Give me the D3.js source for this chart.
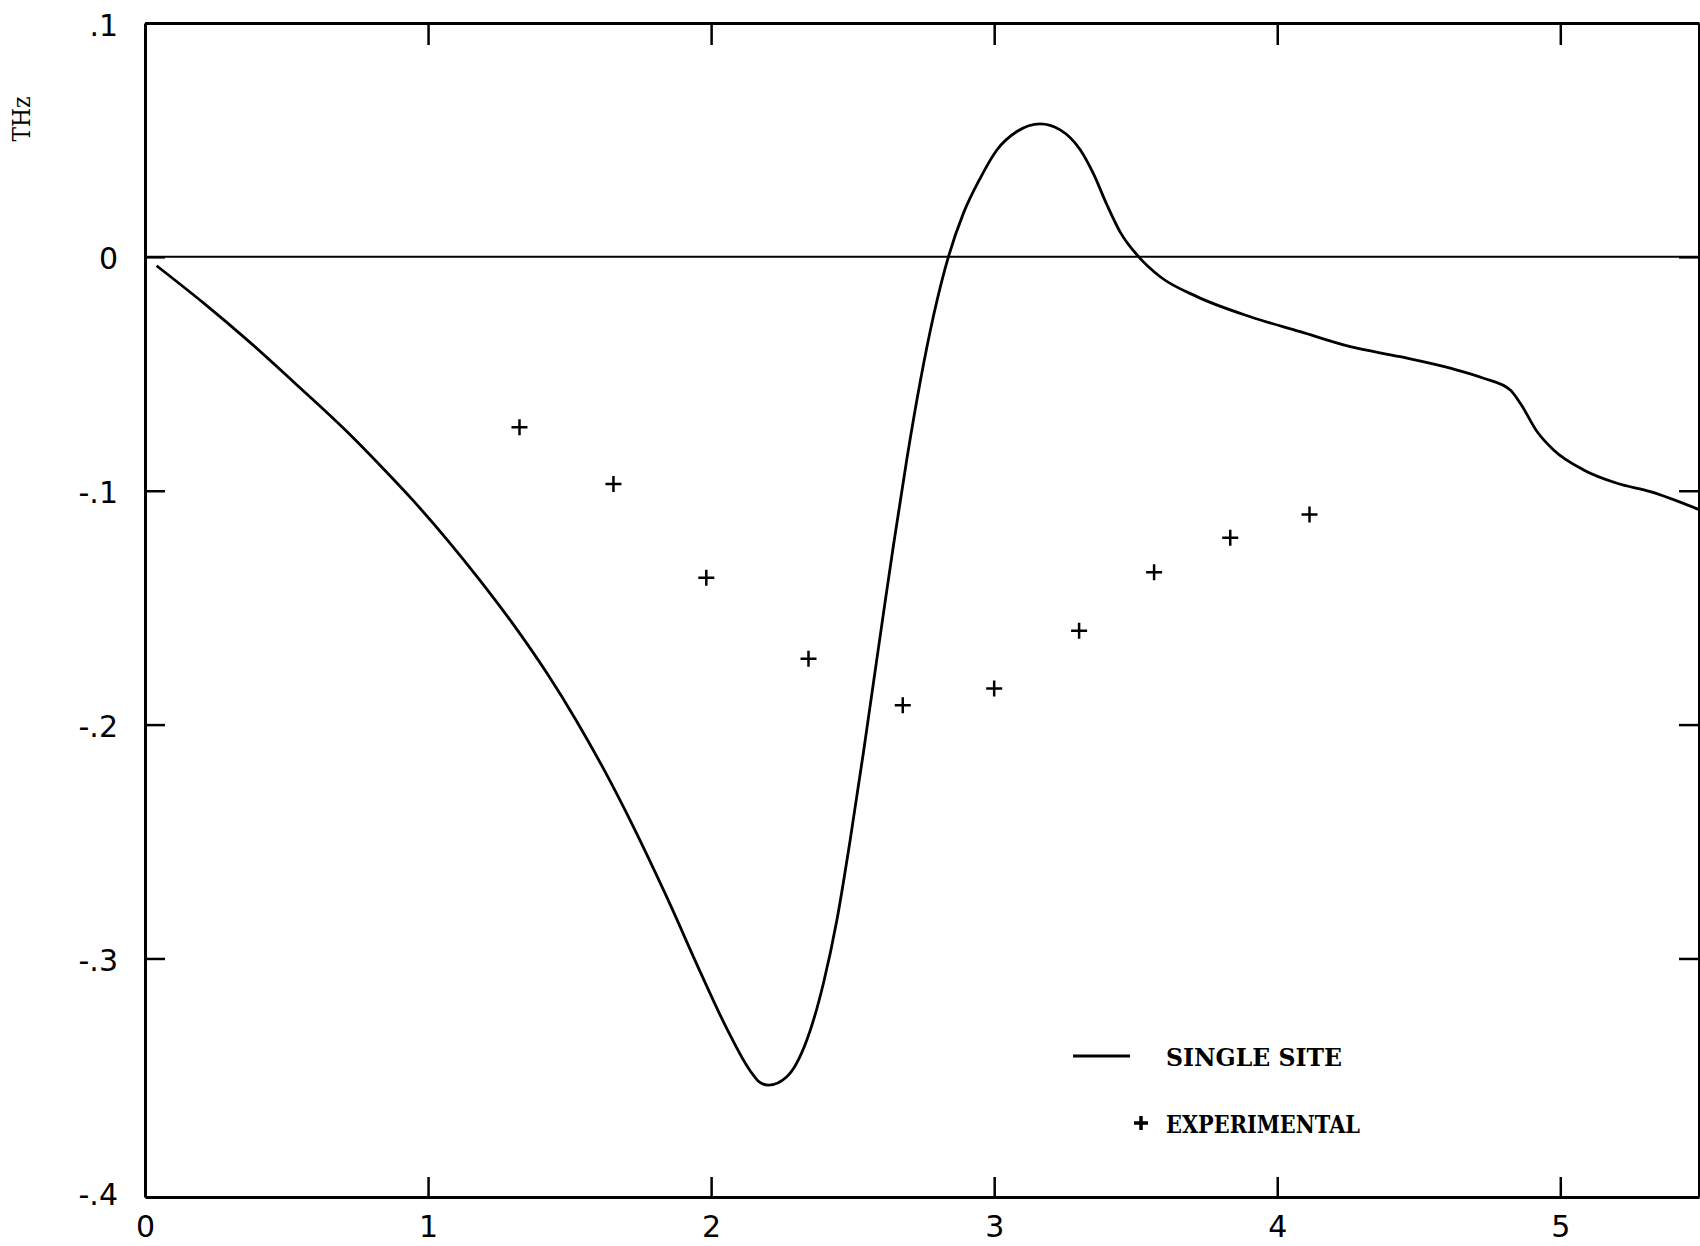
<!DOCTYPE html>
<html>
<head>
<meta charset="utf-8">
<script src="https://cdn.jsdelivr.net/npm/d3@7"></script>
<style>
  body { margin: 0; background: #fff; }
  svg { display: block; }
</style>
</head>
<body>
<svg id="chart"></svg>
<script>
/* data */
var curveX = [0.041, 0.2095, 0.3608, 0.5251, 0.7141, 0.8530, 0.9413, 1.0802, 1.1813, 1.2947,
              1.4208, 1.5219, 1.6230, 1.7254, 1.8435, 1.9611, 2.0555, 2.1378, 2.1700, 2.2025, 2.2675,
              2.3382, 2.3968, 2.4442, 2.4912, 2.5382, 2.5735, 2.6148, 2.6442, 2.6915, 2.7385,
              2.7855, 2.8385, 2.8915, 2.9505, 3.0095, 3.0802, 3.1625, 3.2332, 3.3039, 3.3509,
              3.3982, 3.4452, 3.5099, 3.5866, 3.7163, 3.9046, 4.0813, 4.2580, 4.4346, 4.6113,
              4.7290, 4.8233, 4.8587, 4.9177, 4.9763, 5.0823, 5.2004, 5.3180, 5.4947];
var curveY = [-0.0038, -0.0200, -0.0355, -0.0535, -0.0748, -0.0920, -0.1034, -0.1228, -0.1380, -0.1561,
              -0.1782, -0.1979, -0.2196, -0.2437, -0.2738, -0.3056, -0.3300, -0.3480, -0.3528, -0.3542, -0.3506,
              -0.3349, -0.3106, -0.2837, -0.2494, -0.2118, -0.1821, -0.1474, -0.1233, -0.0864, -0.0535,
              -0.0253, 0.0001, 0.0187, 0.0336, 0.0457, 0.0536, 0.0569, 0.0543, 0.0458, 0.0355,
              0.0223, 0.0106, 0.0001, -0.0085, -0.0170, -0.0256, -0.0320, -0.0384, -0.0427, -0.0476,
              -0.0519, -0.0569, -0.0626, -0.0747, -0.0826, -0.0911, -0.0968, -0.1004, -0.1083];

var expX = [1.323, 1.655, 1.983, 2.344, 2.677, 3.000, 3.300, 3.565, 3.834, 4.114];
var expY = [-0.0729, -0.0971, -0.1372, -0.1718, -0.1917, -0.1846, -0.1599, -0.1349, -0.1201, -0.1102];

var xTicks = [0, 1, 2, 3, 4, 5];
var yTicks = [0.1, 0, -0.1, -0.2, -0.3, -0.4];
var yTickLabels = [".1", "0", "-.1", "-.2", "-.3", "-.4"];

var legendLabels = ["SINGLE SITE", "EXPERIMENTAL"];

/* layout */
var width = 1700, height = 1246;
var plot = { left: 145, right: 1699, top: 23, bottom: 1197 };

var svg = d3.select("#chart").attr("width", width).attr("height", height);
svg.append("rect").attr("width", width).attr("height", height).attr("fill", "#fff");

var xScale = d3.scaleLinear().domain([0, 5.49]).range([plot.left, plot.right]);
var yScale = d3.scaleLinear().domain([-0.402, 0.1]).range([plot.bottom, plot.top]);

var numFont = "'DejaVu Sans', sans-serif";
var textFont = "'DejaVu Serif', serif";

/* axes */
var xAxisB = svg.append("g")
    .attr("transform", `translate(0, ${plot.bottom})`)
    .call(d3.axisBottom(xScale).tickValues(xTicks).tickSize(-20).tickSizeOuter(0).tickPadding(19)
          .tickFormat(d3.format("d")));

var xAxisT = svg.append("g")
    .attr("transform", `translate(0, ${plot.top})`)
    .call(d3.axisTop(xScale).tickValues(xTicks.slice(1)).tickSize(-22).tickSizeOuter(0).tickFormat(""));

var yAxisL = svg.append("g")
    .attr("transform", `translate(${plot.left}, 0)`)
    .call(d3.axisLeft(yScale).tickValues(yTicks).tickSize(-20).tickSizeOuter(0).tickPadding(27)
          .tickFormat((d, i) => yTickLabels[i]));

var yAxisR = svg.append("g")
    .attr("transform", `translate(${plot.right}, 0)`)
    .call(d3.axisRight(yScale).tickValues(yTicks.slice(1, 5)).tickSize(-20).tickSizeOuter(0).tickFormat(""));

[xAxisB, xAxisT, yAxisL, yAxisR].forEach(function(g){
    g.select(".domain").attr("stroke", "#000").attr("stroke-width", 3);
    g.selectAll(".tick line").attr("stroke", "#000").attr("stroke-width", 2.5);
    g.selectAll(".tick text")
     .attr("fill", "#000")
     .style("font-family", numFont)
     .style("font-size", "30px");
});
yAxisL.selectAll(".tick text").attr("dy", "0.4em");
// the -.4 label sits on the bottom frame, no separate tick stroke
yAxisL.selectAll(".tick").filter(d => d === -0.4).select("line").remove();

/* zero line */
svg.append("line")
   .attr("x1", xScale(0)).attr("x2", plot.right)
   .attr("y1", yScale(0)).attr("y2", yScale(0))
   .attr("stroke", "#000").attr("stroke-width", 2);

/* y label */
svg.append("text")
   .attr("transform", "translate(30, 119) rotate(-90)")
   .attr("text-anchor", "middle")
   .attr("textLength", 45)
   .attr("lengthAdjust", "spacingAndGlyphs")
   .style("font-family", textFont)
   .style("font-size", "24px")
   .text("THz");

/* single site curve */
var line = d3.line()
    .x((d, i) => xScale(curveX[i]))
    .y((d, i) => yScale(curveY[i]))
    .curve(d3.curveMonotoneX);

svg.append("path")
   .attr("d", line(curveX))
   .attr("fill", "none")
   .attr("stroke", "#000")
   .attr("stroke-width", 2.8)
   .attr("stroke-linejoin", "round");

/* experimental points */
var plus = "M-8,0H8M0,-8V8";
svg.append("g").selectAll("path")
   .data(expX)
   .join("path")
   .attr("transform", (d, i) => `translate(${xScale(d)}, ${yScale(expY[i])})`)
   .attr("d", plus)
   .attr("fill", "none")
   .attr("stroke", "#000")
   .attr("stroke-width", 2.5);

/* legend */
var legend = svg.append("g");
legend.append("line")
      .attr("x1", 1073).attr("x2", 1130).attr("y1", 1056).attr("y2", 1056)
      .attr("stroke", "#000").attr("stroke-width", 3);
legend.append("text")
      .attr("x", 1166).attr("y", 1066)
      .attr("textLength", 176)
      .attr("lengthAdjust", "spacingAndGlyphs")
      .style("font-family", textFont).style("font-size", "25px").style("font-weight", "bold")
      .text(legendLabels[0]);
legend.append("path")
      .attr("transform", "translate(1141, 1123)")
      .attr("d", "M-7,0H7M0,-7V7")
      .attr("stroke", "#000").attr("stroke-width", 3.5);
legend.append("text")
      .attr("x", 1166).attr("y", 1133)
      .attr("textLength", 194)
      .attr("lengthAdjust", "spacingAndGlyphs")
      .style("font-family", textFont).style("font-size", "25px").style("font-weight", "bold")
      .text(legendLabels[1]);
</script>
</body>
</html>
